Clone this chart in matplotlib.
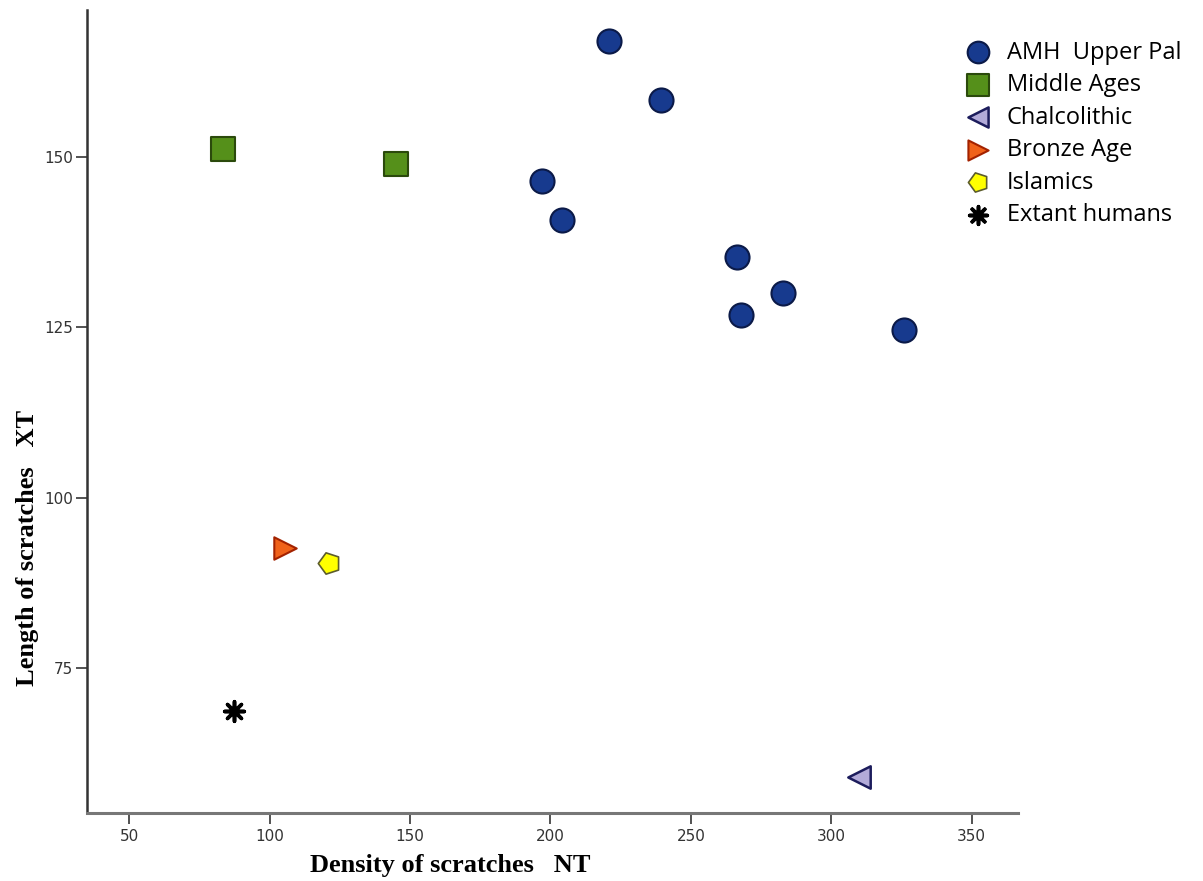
import matplotlib.pyplot as plt

# data
amh_x = [220.8, 239.3, 197.0, 204.1, 266.4, 282.7, 267.8, 325.8]
amh_y = [167.1, 158.4, 146.5, 140.7, 135.4, 130.1, 126.8, 124.6]
mid_x = [83.5, 145.0]
mid_y = [151.2, 149.0]
chal_x = [309.8]
chal_y = [59.0]
bronze_x = [105.5]
bronze_y = [92.6]
islam_x = [121.2]
islam_y = [90.4]
extant_x = [87.4]
extant_y = [68.7]

x_ticks = [50, 100, 150, 200, 250, 300, 350]
y_ticks = [75, 100, 125, 150]

fig = plt.figure(figsize=(12.03, 8.81), dpi=100)
ax = fig.add_axes([0.0723, 0.0772, 0.7737, 0.9114])

ax.scatter(amh_x, amh_y, s=300, c='#173a8e', edgecolors='#0b1a48', linewidths=1.5,
           marker='o', label='AMH  Upper Pal', zorder=3)
ax.scatter(mid_x, mid_y, s=300, c='#55901a', edgecolors='#2b4a0c', linewidths=1.5,
           marker='s', label='Middle Ages', zorder=3)
ax.scatter(chal_x, chal_y, s=260, c='#b3abd9', edgecolors='#1c1c5c', linewidths=1.8,
           marker='<', label='Chalcolithic', zorder=3)
ax.scatter(bronze_x, bronze_y, s=260, c='#f0621a', edgecolors='#a32200', linewidths=1.5,
           marker='>', label='Bronze Age', zorder=3)
ax.scatter(islam_x, islam_y, s=260, c='#ffff00', edgecolors='#5c5c2c', linewidths=1.2,
           marker=(5, 0, 90), label='Islamics', zorder=3)
ax.scatter(extant_x, extant_y, s=200, c='black', linewidths=2.6,
           marker=(8, 2, 0), label='Extant humans', zorder=3)

ax.set_xlim(35.0, 366.4)
ax.set_ylim(53.7, 171.6)
ax.set_xticks(x_ticks)
ax.set_yticks(y_ticks)
ax.tick_params(axis='both', direction='out', length=8, width=1.3, labelsize=11,
               labelcolor='#333333', color='#444444')
ax.tick_params(axis='y', pad=2)

for s in ['top', 'right']:
    ax.spines[s].set_visible(False)
ax.spines['left'].set_linewidth(1.8)
ax.spines['left'].set_color('#333333')
ax.spines['bottom'].set_linewidth(2.2)
ax.spines['bottom'].set_color('#777777')

ax.set_xlabel('Density of scratches   NT', fontsize=19, fontweight='bold',
              family='Liberation Serif', x=0.39, labelpad=7)
ax.set_ylabel('Length of scratches   XT', fontsize=19, fontweight='bold',
              family='Liberation Serif', y=0.33, labelpad=4)

fig.legend(loc='upper left', bbox_to_anchor=(0.776, 0.978), frameon=False,
           prop={'family': 'Open Sans', 'size': 17}, handletextpad=0.2,
           labelspacing=0.36, scatterpoints=1, markerscale=0.9)

fig.savefig('out.png', dpi=100)
